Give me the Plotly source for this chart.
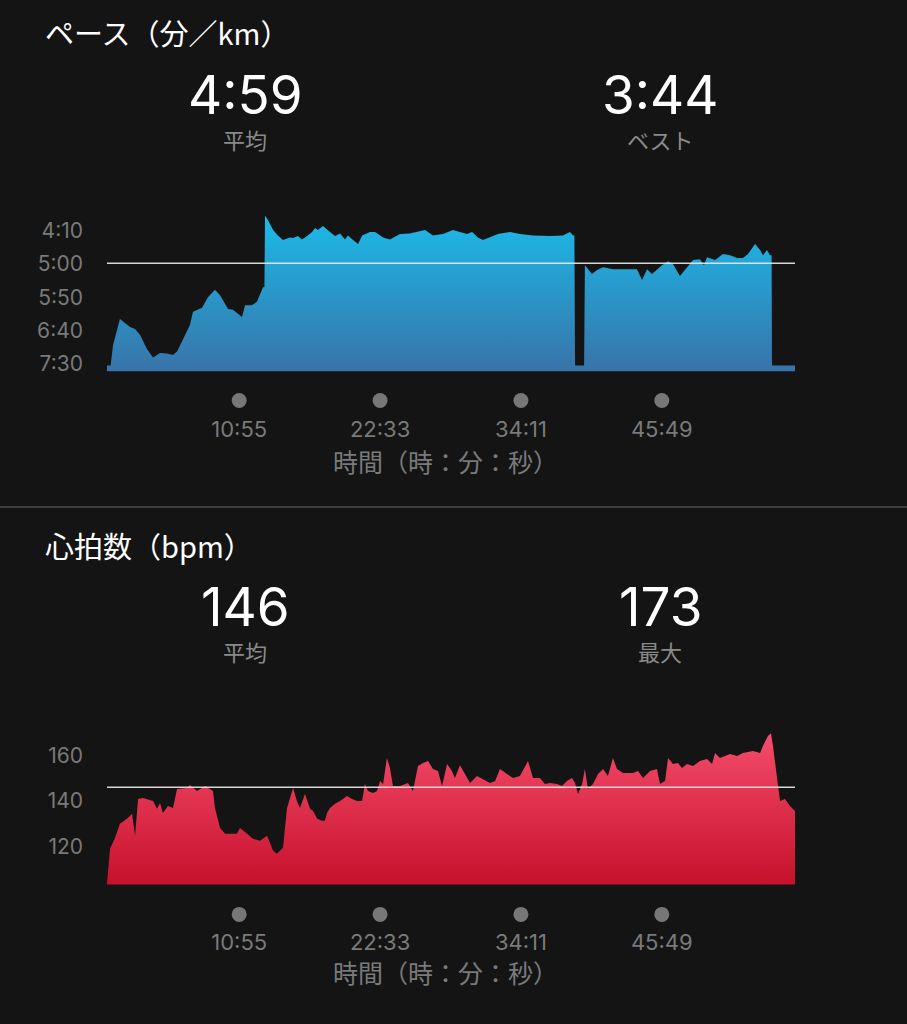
import plotly.graph_objects as go

# ---------------- data ----------------
# elapsed time (s) and pace (s per km)
pace_time = [0, 18, 30, 64, 114, 139, 164, 198, 228, 263, 297, 327, 347, 377, 411, 426, 471, 500,
             535, 560, 600, 624, 669, 684, 718, 743, 773, 780, 783, 798, 823, 847, 872, 907, 922,
             946, 966, 991, 1016, 1031, 1045, 1070, 1090, 1105, 1130, 1155, 1179, 1194, 1219,
             1244, 1264, 1303, 1328, 1368, 1402, 1452, 1501, 1551, 1576, 1615, 1665, 1714, 1749,
             1784, 1809, 1838, 1863, 1898, 1937, 1997, 2046, 2111, 2195, 2259, 2294, 2309, 2316,
             2319, 2364, 2368, 2403, 2428, 2458, 2507, 2557, 2606, 2626, 2651, 2676, 2700, 2725,
             2750, 2780, 2804, 2839, 2874, 2904, 2938, 2958, 2973, 3013, 3052, 3087, 3122, 3151,
             3176, 3211, 3236, 3250, 3270, 3285, 3293, 3295, 3409]
pace_sec = [453, 453, 422, 383, 395, 398, 407, 428, 441, 434, 435, 437, 432, 414, 392, 372, 366, 350,
            339, 347, 368, 369, 380, 362, 362, 357, 335, 335, 227, 234, 249, 257, 264, 260, 261,
            258, 263, 258, 252, 246, 249, 243, 249, 252, 258, 254, 263, 257, 264,
            270, 257, 252, 252, 260, 263, 255, 254, 251, 249, 257, 255, 249, 252,
            255, 252, 260, 264, 260, 255, 252, 255, 257, 258, 257, 252, 257, 257,
            453, 453, 302, 315, 309, 305, 308, 308, 309, 308, 324, 308, 315, 308,
            302, 296, 300, 318, 305, 294, 293, 302, 290, 294, 285, 287, 291, 291,
            285, 270, 279, 287, 279, 287, 287, 453, 453]
pace_avg = 299          # 4:59
pace_best_label = "3:44"
pace_avg_label = "4:59"
pace_ticks = [250, 300, 350, 400, 450]
pace_ticktext = ["4:10", "5:00", "5:50", "6:40", "7:30"]

# elapsed time (s) and heart rate (bpm)
hr_time = [0, 5, 15, 40, 64, 99, 124, 139, 154, 178, 228, 248, 263, 277, 302, 327, 347, 396, 411,
           446, 486, 525, 535, 560, 585, 644, 659, 694, 723, 758, 793, 823, 842, 872, 892, 922,
           941, 956, 981, 1006, 1021, 1041, 1065, 1080, 1090, 1105, 1130, 1155, 1189, 1214, 1239,
           1264, 1278, 1293, 1318, 1338, 1353, 1368, 1387, 1402, 1417, 1452, 1491, 1516, 1541,
           1566, 1591, 1615, 1640, 1660, 1685, 1709, 1724, 1749, 1774, 1799, 1833, 1863, 1898,
           1923, 1947, 1982, 2012, 2046, 2086, 2111, 2145, 2170, 2195, 2230, 2254, 2279, 2304,
           2319, 2334, 2354, 2368, 2383, 2408, 2433, 2458, 2482, 2507, 2527, 2557, 2606, 2631,
           2656, 2691, 2725, 2740, 2765, 2780, 2804, 2829, 2849, 2874, 2904, 2938, 2973, 2998,
           3013, 3037, 3062, 3087, 3122, 3151, 3201, 3236, 3250, 3275, 3290, 3300, 3320, 3335,
           3359, 3384, 3409]
hr_bpm = [103.5, 109.2, 118.9, 123.7, 129.9, 132.1, 134.3, 124.6, 140.9, 141.3, 140, 136.5, 139.1,
          134.7, 137.8, 136.9, 145.3, 145.7, 147, 144.4, 146.6, 144.4, 136.9, 128.1, 125.5, 125.5,
          128.1, 125.5, 123.3, 122.4, 124.6, 118, 116.7, 119.3, 136.9, 145.7,
          140, 136.9, 143.1, 136.5, 135.6, 132.1, 131.2, 131.2, 134.7, 136.9, 138.7, 140, 142.2,
          140.9, 140, 140, 147.5, 144.4, 143.5, 144.4, 148.8, 147.5, 158.9, 154.5, 146.6, 146.6,
          147.9, 144.4, 155.4, 156.7, 157.6, 154.1, 153.2, 146.6, 156.3, 153.2, 150.1, 155.8,
          151.9, 147.9, 151, 149.7, 147.9, 148.8, 154.1, 151.9, 150.1, 151, 157.6, 150.1, 150.1,
          147.5, 147.9, 147.5, 146.6, 148.8, 150.1, 147.9, 143.1, 147.5, 154.1, 145.3, 147.5,
          151.9, 154.1, 151, 158.9, 154.1, 152.3, 152.3, 153.2, 150.1, 153.2, 154.1, 147.5, 148.8,
          158.9, 156.3, 156.7, 154.5, 156.3, 155.4, 157.6, 158.5, 156.3, 161.1, 158.9, 159.8,
          160.7, 159.8, 161.1, 162, 161.1, 164.2, 168.6, 169.9, 164.2, 150.1, 140, 140.9, 137.8,
          135.6]
hr_avg = 146
hr_max = 173
hr_ticks = [120, 140, 160]
hr_ticktext = ["120", "140", "160"]

time_ticks = [655, 1353, 2051, 2749]
time_ticktext = ["10:55", "22:33", "34:11", "45:49"]
t_end = 3409

# ---------------- style ----------------
BG = "#141414"
W, H = 907, 1024
JP = "Noto Sans CJK JP"
NUM = "Inter"
GRAY = "#7a7a7a"

def px(x):
    return x / W

def py(y):
    return 1 - y / H

# pixel geometry of plot areas
X0, X1 = 107, 795
P_TOP, P_BOT = 208, 373
H_TOP, H_BOT = 724, 888
pace_range = [462, 214.5]   # reversed
hr_range = [103.1, 175.2]

fig = go.Figure()

# ---- pace ----
fig.add_trace(go.Scatter(x=[0, t_end], y=[pace_range[0], pace_range[0]], mode="lines",
                         line=dict(width=0), hoverinfo="skip", showlegend=False,
                         xaxis="x", yaxis="y"))
fig.add_trace(go.Scatter(x=pace_time, y=pace_sec, mode="lines", fill="tonexty",
                         line=dict(width=0, color="#1bb9e8"),
                         fillgradient=dict(type="vertical",
                                           colorscale=[[0, "#1bbbea"], [1, "#3873a8"]],
                                           start=225, stop=462),
                         showlegend=False, xaxis="x", yaxis="y"))
fig.add_trace(go.Scatter(x=[0, t_end], y=[pace_avg, pace_avg], mode="lines",
                         line=dict(color="rgba(235,235,235,0.9)", width=1.5),
                         showlegend=False, xaxis="x", yaxis="y"))
fig.add_trace(go.Scatter(x=time_ticks, y=[0.5] * len(time_ticks), mode="markers",
                         marker=dict(size=15, color="#777777"),
                         showlegend=False, xaxis="x", yaxis="y3"))

# ---- heart rate ----
fig.add_trace(go.Scatter(x=hr_time, y=hr_bpm, mode="lines", fill="tozeroy",
                         line=dict(width=0, color="#e8385a"),
                         fillgradient=dict(type="vertical",
                                           colorscale=[[0, "#c6102c"], [1, "#f54e6c"]],
                                           start=103, stop=171),
                         showlegend=False, xaxis="x2", yaxis="y2"))
fig.add_trace(go.Scatter(x=[0, t_end], y=[hr_avg, hr_avg], mode="lines",
                         line=dict(color="rgba(235,235,235,0.9)", width=1.5),
                         showlegend=False, xaxis="x2", yaxis="y2"))
fig.add_trace(go.Scatter(x=time_ticks, y=[0.5] * len(time_ticks), mode="markers",
                         marker=dict(size=15, color="#777777"),
                         showlegend=False, xaxis="x2", yaxis="y4"))

xcommon = dict(range=[0, t_end], domain=[px(X0), px(X1)], showgrid=False, zeroline=False,
               showline=False, tickmode="array", tickvals=time_ticks, ticktext=time_ticktext,
               tickfont=dict(family=NUM, size=22, color=GRAY), ticks="", ticklabelstandoff=42,
               fixedrange=True)
ycommon = dict(showgrid=False, zeroline=False, showline=False, tickmode="array",
               ticks="", ticklabelstandoff=23, tickfont=dict(family=NUM, size=21, color=GRAY),
               fixedrange=True)
ydot = dict(range=[0, 1], visible=False, fixedrange=True)

fig.update_layout(
    width=W, height=H, paper_bgcolor=BG, plot_bgcolor=BG,
    margin=dict(l=0, r=0, t=0, b=0),
    xaxis=dict(**xcommon, anchor="y"),
    yaxis=dict(**ycommon, range=pace_range, domain=[py(P_BOT), py(P_TOP)],
               tickvals=pace_ticks, ticktext=pace_ticktext, anchor="x"),
    yaxis3=dict(**ydot, domain=[py(412), py(392)], anchor="x"),
    xaxis2=dict(**xcommon, anchor="y2"),
    yaxis2=dict(**ycommon, range=hr_range, domain=[py(H_BOT), py(H_TOP)],
                tickvals=hr_ticks, ticktext=hr_ticktext, anchor="x2"),
    yaxis4=dict(**ydot, domain=[py(928), py(908)], anchor="x2"),
    showlegend=False,
)

def ann(text, x, y, size, color, family, xanchor="center", height=None):
    fig.add_annotation(text=text, x=px(x), y=py(y), xref="paper", yref="paper",
                       xanchor=xanchor, yanchor="middle", showarrow=False, height=height,
                       font=dict(size=size, color=color, family=family))

# pace header
ann("ペース（分／km）", 43, 32, 29, "#ffffff", JP, "left")
ann(pace_avg_label, 245, 95, 53, "#ffffff", NUM, height=50)
ann("平均", 245, 140, 22, "#8a8a8a", JP, height=26)
ann(pace_best_label, 660, 95, 53, "#ffffff", NUM, height=50)
ann("ベスト", 660, 140, 22, "#8a8a8a", JP, height=26)
ann("時間（時：分：秒）", 445, 463, 25, GRAY, JP)

# heart-rate header
ann("心拍数（bpm）", 43, 547, 29, "#ffffff", JP, "left")
ann(str(hr_avg), 245, 609, 53, "#ffffff", NUM, height=50)
ann("平均", 245, 654, 22, "#8a8a8a", JP, height=26)
ann(str(hr_max), 660, 609, 53, "#ffffff", NUM, height=50)
ann("最大", 660, 654, 22, "#8a8a8a", JP, height=26)
ann("時間（時：分：秒）", 445, 976, 25, GRAY, JP)

# separator
fig.add_shape(type="line", xref="paper", yref="paper", x0=0, x1=1, y0=py(509), y1=py(509),
              line=dict(color="#3e3e3e", width=2))

fig.write_html("out.html",
               config={"displayModeBar": False},
               post_script="document.body.style.margin='0';"
                           "document.body.style.background='#141414';")
